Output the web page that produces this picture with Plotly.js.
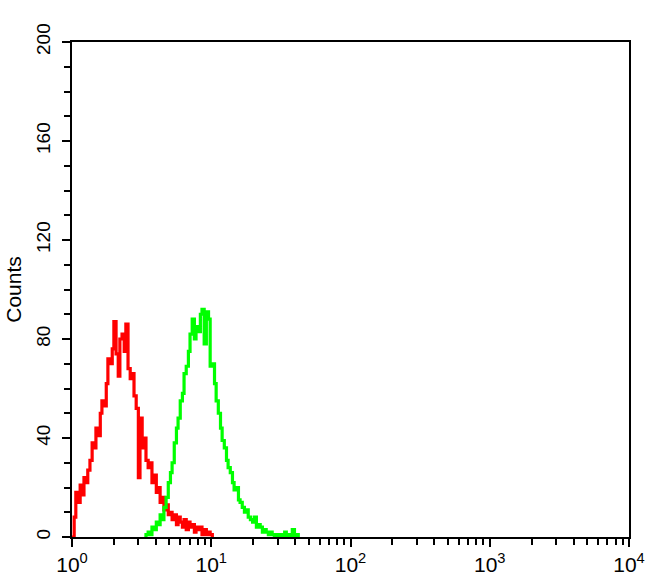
<!DOCTYPE html>
<html>
<head>
<meta charset="utf-8">
<script src="https://cdn.plot.ly/plotly-3.0.1.min.js"></script>
<style>html,body{margin:0;padding:0;background:#fff;}#chart{width:650px;height:585px;}</style>
</head>
<body>
<div id="chart"></div>
<script>
// Log channels (1024 channels over 4 decades) and counts
const redChannels = [0,4,7,11,15,18,22,26,29,33,37,41,44,48,52,55,59,63,66,70,74,77,81,85,88,92,96,99,103,107,111,114,118,122,125,129,133,136,140,144,147,151,155,158,162,166,169,173,177,181,184,188,192,195,199,203,206,210,214,217,221,225,228,232,236,239,243,247,251,254,258];
const redCounts = [0,8,18,14,21,17,24,22,27,31,38,36,44,41,50,55,53,62,72,70,76,87,74,65,80,82,75,86,68,64,66,57,52,24,48,36,40,31,28,30,22,25,18,20,14,16,11,13,9,10,7,9,5,8,6,4,7,3,6,4,5,2,4,3,4,1,3,1,2,1,0];

const greenChannels = [133,136,140,144,147,151,155,158,162,166,169,173,177,181,184,188,192,195,199,203,206,210,214,217,221,225,228,232,236,239,243,247,251,254,258,262,265,269,273,276,280,284,287,291,295,298,302,306,309,313,317,321,324,328,332,335,339,343,346,350,354,357,361,365,368,372,376,379,383,387,391,394,398,402,405,409,413,416];
const greenCounts = [0,1,2,1,4,3,6,5,9,7,12,16,22,26,30,38,44,48,55,58,66,69,75,82,88,80,85,83,90,92,78,91,88,69,70,62,55,50,44,39,36,31,28,26,22,19,20,15,14,12,10,11,8,7,6,8,4,5,4,2,3,2,1,2,1,0,1,0,1,0,2,0,1,0,3,0,1,0];

const xTickVals = [1, 10, 100, 1000, 10000];
const xTickText = ['10<sup>0</sup>', '10<sup>1</sup>', '10<sup>2</sup>', '10<sup>3</sup>', '10<sup>4</sup>'];
const xMinorVals = [2,3,4,5,6,7,8,9,20,30,40,50,60,70,80,90,200,300,400,500,600,700,800,900,2000,3000,4000,5000,6000,7000,8000,9000];
const yTickVals = [0, 40, 80, 120, 160, 200];

const toIntensity = ch => ch.map(c => Math.pow(10, c / 256));

const traces = [
  {x: toIntensity(redChannels), y: redCounts, type: 'scatter', mode: 'lines',
   line: {color: '#ff0000', width: 3.2, shape: 'hv'}, hoverinfo: 'skip'},
  {x: toIntensity(greenChannels), y: greenCounts, type: 'scatter', mode: 'lines',
   line: {color: '#00ff00', width: 3.2, shape: 'hv'}, hoverinfo: 'skip'}
];

const layout = {
  width: 650, height: 585,
  margin: {l: 72, r: 21, t: 42, b: 48},
  paper_bgcolor: '#fff', plot_bgcolor: '#fff',
  showlegend: false,
  font: {family: 'Liberation Sans, Arial, sans-serif', color: '#000'},
  xaxis: {
    type: 'log', range: [0, 4],
    tickmode: 'array', tickvals: xTickVals, ticktext: xTickText,
    ticks: 'outside', ticklen: 8, tickwidth: 2, tickcolor: '#000',
    minor: {tickmode: 'array', tickvals: xMinorVals, ticks: 'outside', ticklen: 6, tickwidth: 2, tickcolor: '#000', showgrid: false},
    showline: true, linecolor: '#000', linewidth: 2, mirror: true,
    showgrid: false, zeroline: false,
    tickfont: {size: 21}
  },
  yaxis: {
    range: [0, 200],
    tickmode: 'array', tickvals: yTickVals,
    tickangle: -90,
    ticks: 'outside', ticklen: 8, tickwidth: 2, tickcolor: '#000',
    ticklabelstandoff: 4,
    minor: {dtick: 10, ticks: 'outside', ticklen: 6, tickwidth: 2, tickcolor: '#000', showgrid: false},
    showline: true, linecolor: '#000', linewidth: 2, mirror: true,
    showgrid: false, zeroline: false,
    tickfont: {size: 19},
    title: {text: 'Counts', font: {size: 21}, standoff: 6}
  }
};

Plotly.newPlot('chart', traces, layout, {displayModeBar: false, staticPlot: true});
</script>
</body>
</html>
